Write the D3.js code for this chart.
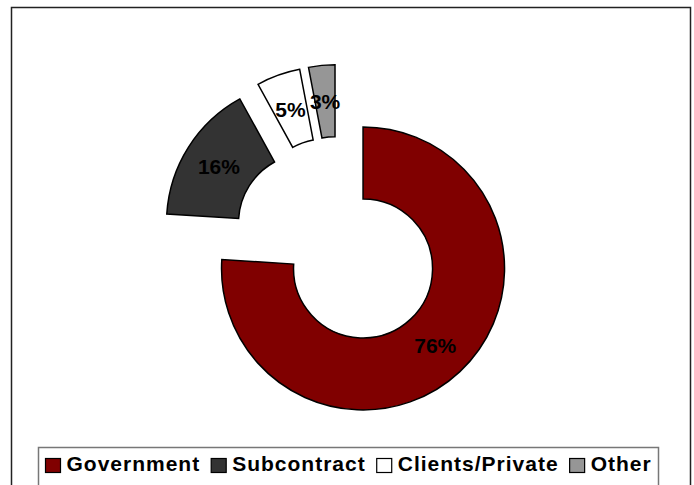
<!DOCTYPE html>
<html><head><meta charset="utf-8">
<script src="https://cdn.jsdelivr.net/npm/d3@7"></script>
<style>html,body{margin:0;padding:0;background:#fff;}svg{display:block;}</style>
</head><body>
<svg id="chart" width="694" height="485"></svg>
<script>
const categories = ["Government", "Subcontract", "Clients/Private", "Other"];
const values = [76, 16, 5, 3];
const sliceLabels = ["76%", "16%", "5%", "3%"];
const colors = ["#800000", "#333333", "#ffffff", "#969696"];

const svg = d3.select("#chart");
const W = 694, H = 485;
svg.append("rect").attr("width", W).attr("height", H).attr("fill", "#fff");

// outer chart border
svg.append("rect").attr("x", 11.5).attr("y", 7.5).attr("width", 679).attr("height", 500)
  .attr("fill", "none").attr("stroke", "#222").attr("stroke-width", 1.5);

const cx = 338.4, cy = 242.2, outerR = 141.5, innerR = 69.5, explode = 36;

const pie = d3.pie().sort(null).value(d => d.v).startAngle(0).endAngle(2 * Math.PI);
const data = categories.map((c, i) => ({ c, v: values[i], label: sliceLabels[i], color: colors[i] }));
const arcs = pie(data);
const arc = d3.arc().innerRadius(innerR).outerRadius(outerR);

const g = svg.append("g").attr("transform", `translate(${cx},${cy})`);
const sl = g.selectAll("g.slice").data(arcs).enter().append("g")
  .attr("transform", d => {
    const m = (d.startAngle + d.endAngle) / 2;
    return `translate(${explode * Math.sin(m)},${-explode * Math.cos(m)})`;
  });
sl.append("path").attr("d", arc)
  .attr("fill", d => d.data.color).attr("stroke", "#000").attr("stroke-width", 1.5)
  .attr("stroke-linejoin", "miter");
sl.append("text")
  .attr("transform", d => `translate(${arc.centroid(d)})`)
  .attr("text-anchor", "middle").attr("dominant-baseline", "central")
  .attr("font-family", "Liberation Sans, Arial, sans-serif").attr("font-weight", "bold")
  .attr("font-size", 21).attr("fill", "#000")
  .text(d => d.data.label);

// legend
const lx = 38.5, ly = 447.5, lw = 620, lh = 60;
svg.append("rect").attr("x", lx).attr("y", ly).attr("width", lw).attr("height", lh)
  .attr("fill", "#fff").attr("stroke", "#777").attr("stroke-width", 1.5);
const lg = svg.append("g");
const items = lg.selectAll("g").data(data).enter().append("g");
items.append("rect").attr("y", -12).attr("width", 15).attr("height", 14)
  .attr("fill", d => d.color).attr("stroke", "#000").attr("stroke-width", 1.2);
items.append("text").attr("x", 21).attr("y", 0)
  .attr("font-family", "Liberation Sans, Arial, sans-serif").attr("font-weight", "bold")
  .attr("font-size", 21).attr("letter-spacing", "1px").attr("fill", "#000")
  .text(d => d.c);
const widths = [];
items.each(function () { widths.push(d3.select(this).select("text").node().getComputedTextLength() + 21); });
const gap = 11;
let x = 45.5;
items.attr("transform", (d, i) => { const t = `translate(${x},470.5)`; x += widths[i] + gap; return t; });
</script>
</body></html>
